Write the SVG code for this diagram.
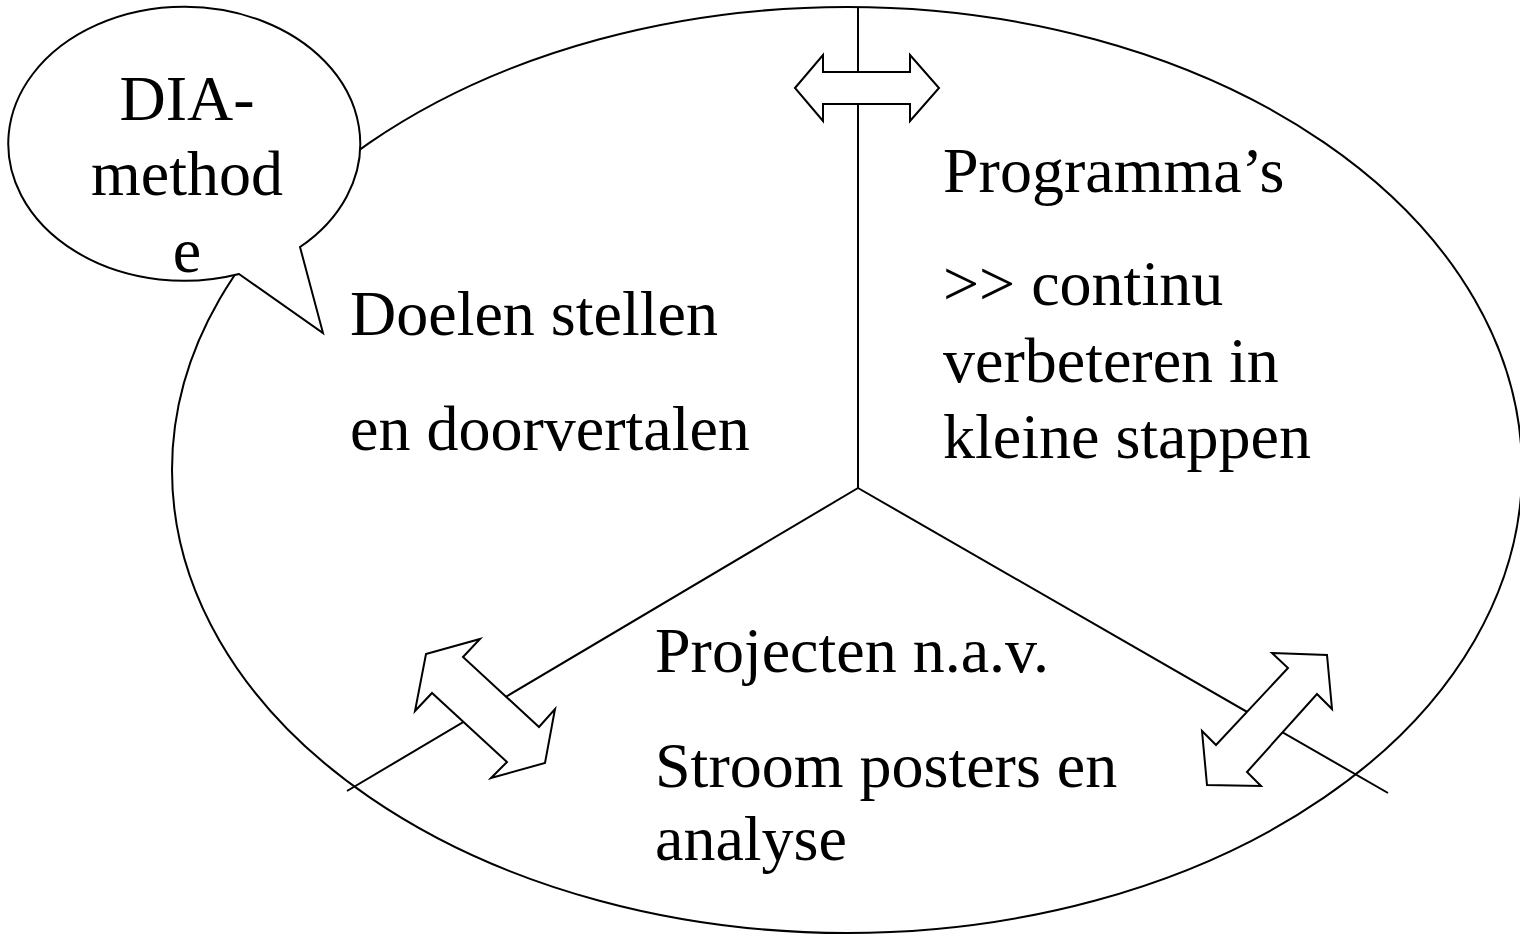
<svg xmlns="http://www.w3.org/2000/svg" width="1520" height="934" viewBox="0 0 1520 934">
<style>
.ln{fill:none;stroke:#000;stroke-width:2}
.sh{fill:#fff;stroke:#000;stroke-width:2;stroke-linejoin:miter}
.t{font-family:"Liberation Serif","Times New Roman",serif;font-size:64px;fill:#000}
</style>
<rect width="1520" height="934" fill="#fff"/>
<g id="main-ellipse">
<ellipse class="ln" cx="847" cy="470" rx="675" ry="463"/>
</g>
<g id="connectors">
<line class="ln" x1="858" y1="8" x2="858" y2="488"/>
<line class="ln" x1="858" y1="488" x2="347" y2="791"/>
<line class="ln" x1="858" y1="488" x2="1388" y2="793"/>
</g>
<g id="arrow-top">
<polygon class="sh" points="795,88 823,55 823,72 910,72 910,55 939,88 910,121 910,104 823,104 823,121"/>
</g>
<g id="arrow-left">
<polygon class="sh" points="426,654 480,639 463,657 539,727 555,709 545,763 491,778 507,762 432,693 415,711"/>
</g>
<g id="arrow-right">
<polygon class="sh" points="1272,653 1327,655 1332,709 1317,694 1247,772 1261,786 1207,785 1202,731 1216,745 1288,668"/>
</g>
<g id="callout">
<path class="sh" d="M300,247 A176,137 0 1 0 239,274 L323,333 Z"/>
<text class="t" text-anchor="middle" x="187" y="120">DIA-</text>
<text class="t" text-anchor="middle" x="187" y="195">method</text>
<text class="t" text-anchor="middle" x="187" y="272">e</text>
</g>
<g id="text-goals">
<text class="t" x="350" y="335">Doelen stellen</text>
<text class="t" x="350" y="450">en doorvertalen</text>
</g>
<g id="text-programs">
<text class="t" x="943" y="192">Programma’s</text>
<text class="t" x="943" y="305">&gt;&gt; continu</text>
<text class="t" x="943" y="382">verbeteren in</text>
<text class="t" x="943" y="458">kleine stappen</text>
</g>
<g id="text-projects">
<text class="t" x="655" y="672">Projecten n.a.v.</text>
<text class="t" x="655" y="787">Stroom posters en</text>
<text class="t" x="655" y="860">analyse</text>
</g>
</svg>
